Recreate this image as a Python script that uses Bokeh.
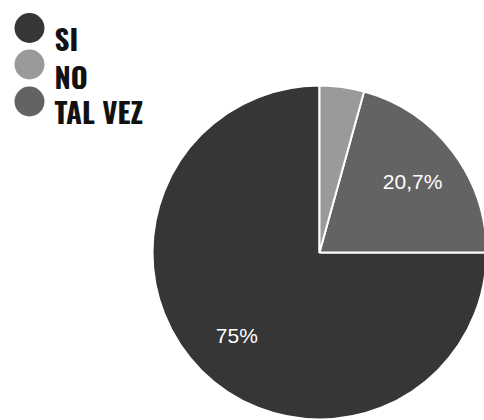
import math
from bokeh.plotting import figure
from bokeh.models import Range1d, ColumnDataSource
from bokeh.core.properties import value
from bokeh.embed import file_html
from bokeh.resources import INLINE

# ---- data ----
categories = ["SI", "NO", "TAL VEZ"]
percentages = [75.0, 4.3, 20.7]
labels = ["75%", "", "20,7%"]
colors = ["#363636", "#9a9a9a", "#636363"]
# order in which slices are laid counter-clockwise from 12 o'clock
draw_order = ["SI", "TAL VEZ", "NO"]

W, H = 484, 420
p = figure(width=W, height=H, output_backend="svg", toolbar_location=None,
           x_range=Range1d(0, W), y_range=Range1d(0, H),
           min_border=0)
p.axis.visible = False
p.grid.visible = False
p.outline_line_color = None
p.background_fill_color = "white"
p.border_fill_color = "white"

cx, cy, R = 319, H - 252, 167

# wedges (counter-clockwise from top)
start = math.pi / 2
starts, ends, cols, lab_x, lab_y, lab_t = [], [], [], [], [], []
for name in draw_order:
    i = categories.index(name)
    span = percentages[i] / 100.0 * 2 * math.pi
    starts.append(start)
    ends.append(start + span)
    cols.append(colors[i])
    mid = start + span / 2
    rl = 0.70 * R
    lab_x.append(cx + rl * math.cos(mid))
    lab_y.append(cy + rl * math.sin(mid))
    lab_t.append(labels[i])
    start += span

src = ColumnDataSource(dict(x=[cx] * 3, y=[cy] * 3, s=starts, e=ends, c=cols))
p.wedge(x="x", y="y", radius=R, start_angle="s", end_angle="e",
        fill_color="c", line_color="white", line_width=2, source=src)

p.text(x=lab_x, y=lab_y, text=lab_t, text_color="white",
       text_font=value("Liberation Sans"), text_font_size="21px",
       text_align="center", text_baseline="middle")

# legend
leg_y_circle = [H - 27.5, H - 64, H - 101]
leg_y_text = [H - 37, H - 75, H - 110]
p.scatter(x=[29] * 3, y=leg_y_circle, size=30, marker="circle",
          fill_color=colors, line_color=None)
p.text(x=[54] * 3, y=leg_y_text, text=categories, text_color="#111111",
       text_font=value("Oswald"),
       text_font_style="bold", text_font_size="29px",
       text_align="left", text_baseline="alphabetic")

open("out.html", "w").write(file_html(p, INLINE))
